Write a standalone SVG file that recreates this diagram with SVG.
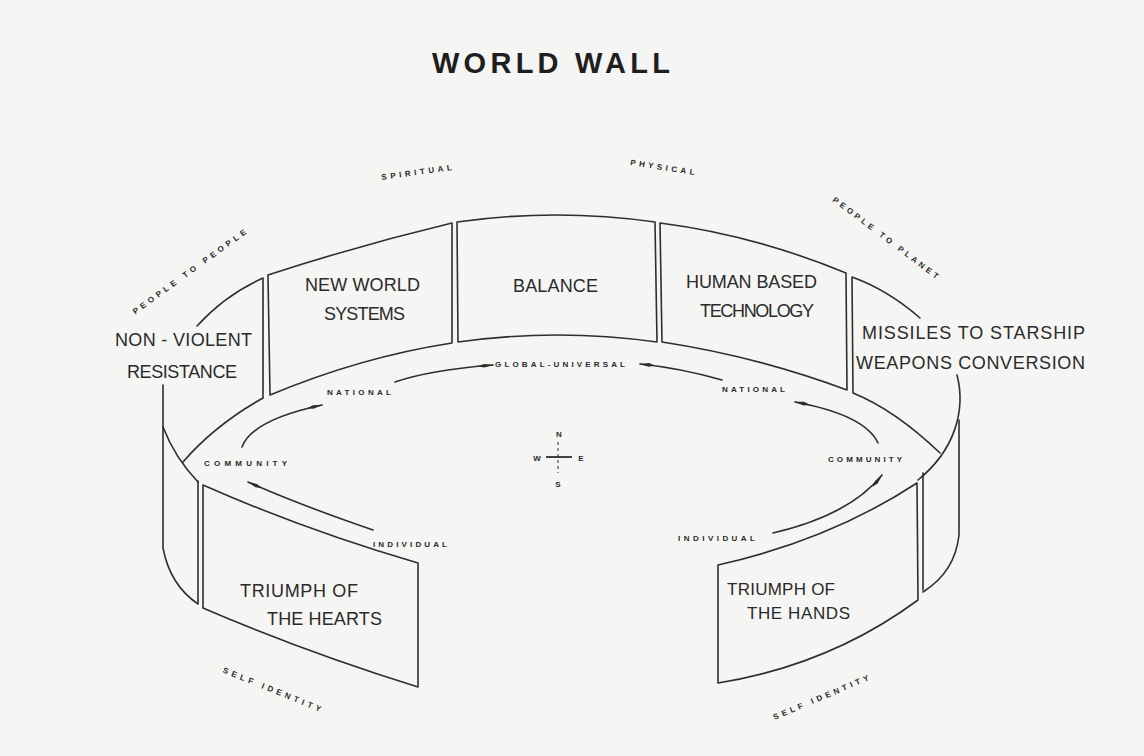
<svg xmlns="http://www.w3.org/2000/svg" width="1144" height="756" viewBox="0 0 1144 756">
<style>
.bg{fill:#f5f5f3}
.w{fill:none;stroke:#2e2e2e;stroke-width:1.6;stroke-linecap:round;stroke-linejoin:round}
.a{fill:none;stroke:#2e2e2e;stroke-width:1.6;stroke-linecap:round}
.t{font-family:"Liberation Sans",Arial,sans-serif;font-size:18px;fill:#2a2a2a}
.s{font-family:"Liberation Sans",Arial,sans-serif;font-size:8px;fill:#2a2a2a;font-weight:bold}
.h{font-family:"Liberation Sans",Arial,sans-serif;font-size:29px;font-weight:bold;fill:#1e1e1e}
</style>
<defs>
<marker id="ah" viewBox="0 0 16 6" refX="15" refY="3" markerWidth="16" markerHeight="6" markerUnits="userSpaceOnUse" orient="auto">
<path d="M0,3 L6,1.2 L16,3 L6,4.8 z" fill="#2e2e2e"/>
</marker>
</defs>
<rect class="bg" x="0" y="0" width="1144" height="756"/>
<text class="h" x="432" y="73" textLength="238" lengthAdjust="spacing">WORLD WALL</text>

<g id="non-violent">
<path class="w" d="M197,326 Q225,295 263,278 L263,398 Q215,425 183,462"/>
<path class="w" d="M163,385 L163,548 Q170,585 198,604"/>
<path class="w" d="M163,427 Q175,458 198,482"/>
<text class="t" x="115" y="346" textLength="137" lengthAdjust="spacing">NON - VIOLENT</text>
<text class="t" x="127" y="378" textLength="110" lengthAdjust="spacing">RESISTANCE</text>
</g>

<g id="new-world-systems">
<path class="w" d="M268,275 Q360,245 452,223 L452,343 Q361,357 270,395 Z"/>
<text class="t" x="305" y="291" textLength="115" lengthAdjust="spacing">NEW WORLD</text>
<text class="t" x="324" y="320" textLength="81" lengthAdjust="spacing">SYSTEMS</text>
</g>

<g id="balance">
<path class="w" d="M457,222 Q556,208 655,222 L657,342 Q557,328 458,342 Z"/>
<text class="t" x="513" y="292" textLength="85" lengthAdjust="spacing">BALANCE</text>
</g>

<g id="human-based-technology">
<path class="w" d="M660,223 Q754,235 846,273 L847,390 Q755,356 662,342 Z"/>
<text class="t" x="686" y="288" textLength="131" lengthAdjust="spacing">HUMAN BASED</text>
<text class="t" x="700" y="317" textLength="114" lengthAdjust="spacing">TECHNOLOGY</text>
</g>

<g id="missiles">
<path class="w" d="M920,318 Q888,290 852,277 L853,393 Q895,410 940,453"/>
<path class="w" d="M957,375 C966,410 955,450 918,480"/>
<path class="w" d="M959,420 L959,535 Q955,572 923,592"/>
<text class="t" x="862" y="339" textLength="223" lengthAdjust="spacing">MISSILES TO STARSHIP</text>
<text class="t" x="856" y="369" textLength="229" lengthAdjust="spacing">WEAPONS CONVERSION</text>
</g>

<g id="triumph-hearts">
<path class="w" d="M198,481 L198,603"/>
<path class="w" d="M203,485 Q305,530 418,563 L418,687 Q305,652 203,608 Z"/>
<text class="t" x="240" y="597" textLength="118" lengthAdjust="spacing">TRIUMPH  OF</text>
<text class="t" x="267" y="625" textLength="115" lengthAdjust="spacing">THE HEARTS</text>
</g>

<g id="triumph-hands">
<path class="w" d="M923,473 L923,590"/>
<path class="w" d="M718,565 Q830,540 917,483 L918,600 Q830,665 718,683 Z"/>
<text class="t" style="font-size:17px" x="727" y="595" textLength="108" lengthAdjust="spacing">TRIUMPH OF</text>
<text class="t" style="font-size:17px" x="747" y="619" textLength="103" lengthAdjust="spacing">THE HANDS</text>
</g>

<g id="connectors">
<path class="a" d="M242,447 Q252,420 322,405" marker-end="url(#ah)"/>
<path class="a" d="M395,382 Q430,370 493,365" marker-end="url(#ah)"/>
<path class="a" d="M722,380 Q680,368 640,364" marker-end="url(#ah)"/>
<path class="a" d="M878,443 Q865,415 795,402" marker-end="url(#ah)"/>
<path class="a" d="M773,533 Q850,515 882,475" marker-end="url(#ah)"/>
<path class="a" d="M373,530 Q300,505 248,482" marker-end="url(#ah)"/>
</g>

<g id="labels">
<text class="s" text-anchor="middle" transform="translate(417,175) rotate(-8)" textLength="71" lengthAdjust="spacing">SPIRITUAL</text>
<text class="s" text-anchor="middle" transform="translate(662,170) rotate(9)" textLength="65" lengthAdjust="spacing">PHYSICAL</text>
<text class="s" text-anchor="middle" transform="translate(191,274) rotate(-36)" textLength="138" lengthAdjust="spacing">PEOPLE TO PEOPLE</text>
<text class="s" text-anchor="middle" transform="translate(884,240) rotate(37)" textLength="130" lengthAdjust="spacing">PEOPLE TO PLANET</text>
<text class="s" x="327" y="395" textLength="64" lengthAdjust="spacing">NATIONAL</text>
<text class="s" x="495" y="367" textLength="130" lengthAdjust="spacing">GLOBAL-UNIVERSAL</text>
<text class="s" x="722" y="392" textLength="63" lengthAdjust="spacing">NATIONAL</text>
<text class="s" x="204" y="466" textLength="83" lengthAdjust="spacing">COMMUNITY</text>
<text class="s" x="828" y="462" textLength="74" lengthAdjust="spacing">COMMUNITY</text>
<text class="s" x="373" y="547" textLength="74" lengthAdjust="spacing">INDIVIDUAL</text>
<text class="s" x="678" y="541" textLength="77" lengthAdjust="spacing">INDIVIDUAL</text>
<text class="s" text-anchor="middle" transform="translate(271,692) rotate(22)" textLength="105" lengthAdjust="spacing">SELF IDENTITY</text>
<text class="s" text-anchor="middle" transform="translate(822,700) rotate(-23)" textLength="103" lengthAdjust="spacing">SELF IDENTITY</text>
</g>

<g id="compass">
<line x1="546" y1="457" x2="572" y2="457" stroke="#2e2e2e" stroke-width="1.8"/>
<line x1="558" y1="442" x2="558" y2="473" stroke="#2e2e2e" stroke-width="1" stroke-dasharray="3,3"/>
<text class="s" text-anchor="middle" x="559" y="437">N</text>
<text class="s" text-anchor="middle" x="537" y="461">W</text>
<text class="s" text-anchor="middle" x="581" y="461">E</text>
<text class="s" text-anchor="middle" x="558" y="487">S</text>
</g>
</svg>
